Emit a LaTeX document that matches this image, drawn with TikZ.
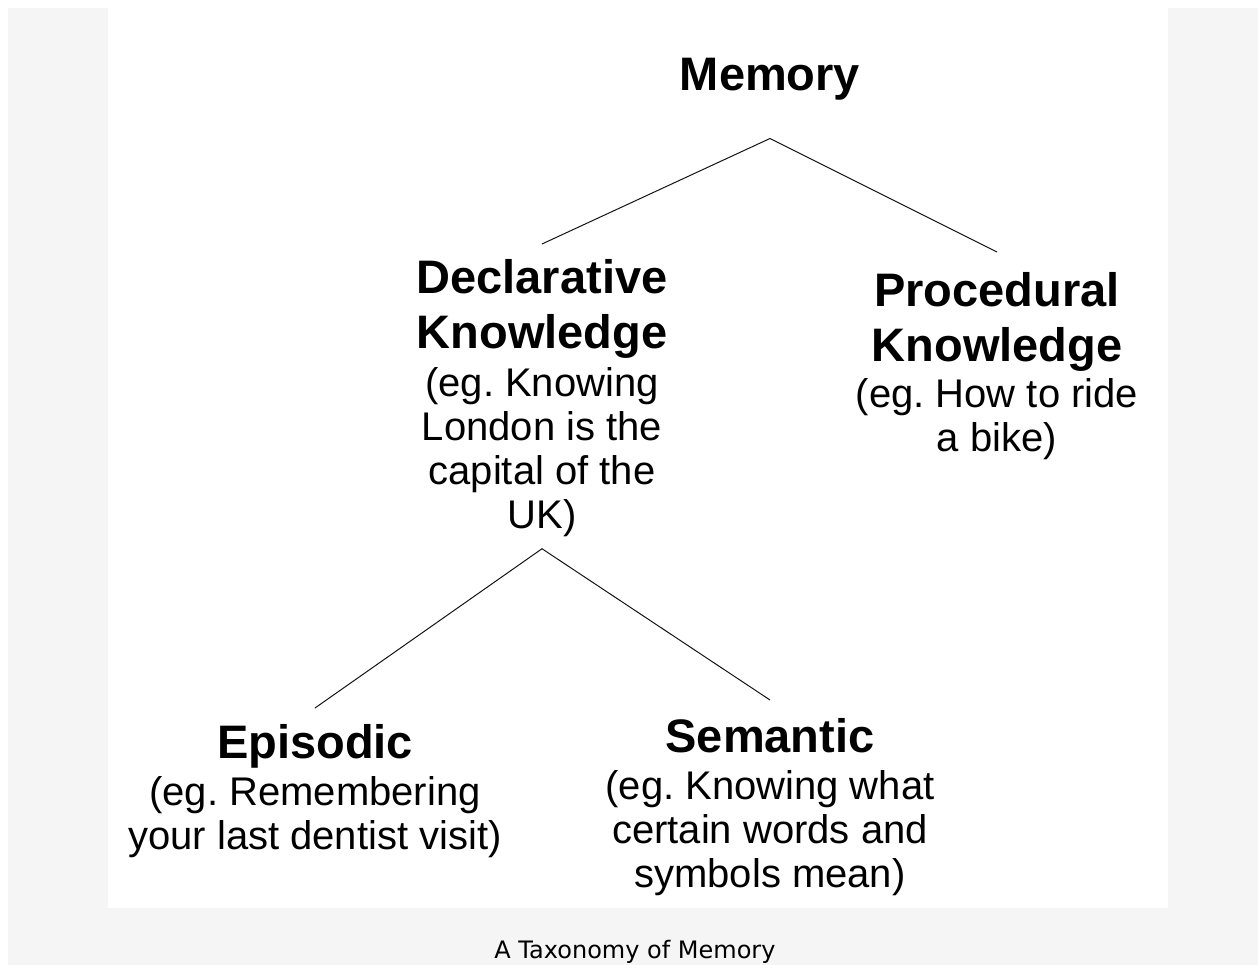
\documentclass[tikz,border=0pt]{standalone}
\usepackage{fontspec}
\setmainfont{Liberation Sans}
\newfontfamily\captionfont{DejaVu Sans}
\usepackage{tikz}
\usepackage{xcolor}
\definecolor{cfond}{RGB}{245,245,245}
\definecolor{cligne}{RGB}{20,20,20}
\newcommand{\tete}[1]{{\fontsize{47}{58}\selectfont\bfseries #1}}
\frenchspacing

\begin{document}
\begin{tikzpicture}[x=1pt, y=-1pt,
  concept/.style={align=center, inner sep=0pt, anchor=north, font=\fontsize{40}{44}\selectfont},
  branche/.style={draw=cligne, line width=1pt}]
\useasboundingbox (0,0) rectangle (1258,965);
\fill[cfond] (8,8) rectangle (1258,965);
\fill[white] (108,8) rectangle (1168,908);
\node[concept] (mem) at (770,58) {\tete{Memory}};
\node[concept] (decl) at (542,259) {\tete{Declarative}\\[11pt]\tete{Knowledge}\\[4pt]
  (eg. Knowing\\London is the\\capital of the\\UK)};
\node[concept] (proc) at (997,272) {\tete{Procedural}\\[11pt]\tete{Knowledge}\\[2pt]
  (eg. How to ride\\a bike)};
\node[concept] (epi) at (315,724) {\tete{Episodic}\\[3pt]
  (eg. Remembering\\your last dentist visit)};
\node[concept] (sem) at (770,718) {\tete{Semantic}\\[3pt]
  (eg. Knowing what\\certain words and\\symbols mean)};
\node[anchor=base, inner sep=0pt, font=\captionfont\fontsize{24}{28}\selectfont] (titre) at (635,958) {A Taxonomy of Memory};
\draw[branche] ([yshift=15pt]decl.north) -- ([yshift=-38pt]mem.south) -- ([yshift=20pt]proc.north);
\draw[branche] ([yshift=16pt]epi.north) -- ([yshift=-12pt]decl.south) -- ([yshift=18pt]sem.north);
\end{tikzpicture}
\end{document}
